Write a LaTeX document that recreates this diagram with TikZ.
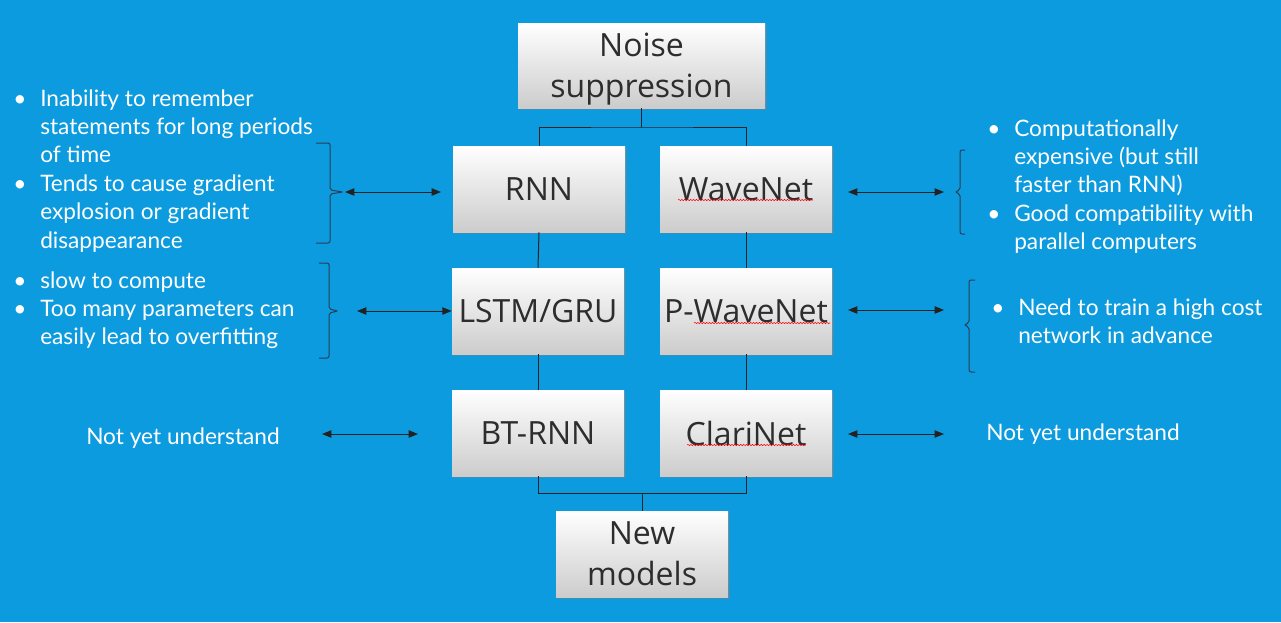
\documentclass[tikz,border=0pt]{standalone}
\usepackage{fontspec}
\setmainfont{Lato}
\newfontfamily\boxfont{Open Sans}
\usetikzlibrary{shadows}
\usetikzlibrary{arrows.meta}
\usetikzlibrary{decorations.pathmorphing}
\definecolor{slidebg}{RGB}{12,155,222}
\definecolor{boxtext}{RGB}{45,45,45}
\definecolor{linedark}{RGB}{34,34,34}
\definecolor{bracecol}{RGB}{40,62,84}
\tikzset{
  model/.style={draw=none,top color=white,bottom color=gray!40,
    drop shadow={shadow xshift=1.5pt,shadow yshift=-1.5pt,opacity=0.45},
    minimum width=129pt,minimum height=64.5pt,inner sep=0pt,align=center,
    text=boxtext,font=\boxfont\fontsize{24}{31}\selectfont},
  note/.style={anchor=base west,inner sep=0pt,text=white,font=\fontsize{17}{21.3}\selectfont},
  link/.style={linedark,line width=0.75pt},
  pointer/.style={linedark,line width=0.75pt,<->},
  bracket/.style={bracecol,line width=0.75pt,rounded corners=1.5pt},
  typo/.style={red,line width=0.4pt,decorate,decoration={snake,amplitude=0.5pt,segment length=2.2pt}}
}
\begin{document}
\begin{tikzpicture}[x=0.75pt,y=-0.75pt,>={Triangle[length=7pt,width=5.5pt]}]
\useasboundingbox (0,0) rectangle (1281,622);
\fill[slidebg] (0,0) rectangle (1281,622);

\node[model,minimum width=185.25pt,minimum height=63.75pt,text depth=-2pt] (noise) at (641.5,65.5) {Noise\\suppression};
\node[model] (rnn) at (539,189) {RNN};
\node[model] (wavenet) at (746,189) {WaveNet};
\node[model] (lstm) at (538,311) {LSTM/GRU};
\node[model] (pwavenet) at (746,311) {P-WaveNet};
\node[model] (btrnn) at (538,433) {BT-RNN};
\node[model] (clarinet) at (746,433) {ClariNet};
\node[model] (newmod) at (642,554) {New\\models};

\coordinate (split) at (641.5,127);
\coordinate (merge) at (642,493);
\draw[link] (noise.south) -- (split);
\draw[link] (rnn.north) |- (split) -| (wavenet.north);
\draw[link] (rnn.south) -- (lstm.north);
\draw[link] (lstm.south) -- (btrnn.north);
\draw[link] (wavenet.south) -- (pwavenet.north);
\draw[link] (pwavenet.south) -- (clarinet.north);
\draw[link] (btrnn.south) |- (merge) -| (clarinet.south);
\draw[link] (merge) -- (newmod.north);

\draw[typo] (678,200) -- (813,200);
\draw[typo] (694,323) -- (830,323);
\draw[typo] (687,445) -- (806,445);

\node[note] (rnnnote) at (13,106) {\begin{tabular}[t]{@{}p{20.25pt}@{}l@{}}
\textbullet & Inability to remember\\
 & statements for long periods\\
 & of time\\
\textbullet & Tends to cause gradient\\
 & explosion or gradient\\
 & disappearance
\end{tabular}};
\node[note] (lstmnote) at (13,288) {\begin{tabular}[t]{@{}p{20.25pt}@{}l@{}}
\textbullet & slow to compute\\
\textbullet & Too many parameters can\\
 & easily lead to overfitting
\end{tabular}};
\node[note] (btnote) at (86,444) {Not yet understand};
\node[note] (wavenote) at (987,136) {\begin{tabular}[t]{@{}p{20.25pt}@{}l@{}}
\textbullet & Computationally\\
 & expensive (but still\\
 & faster than RNN)\\
\textbullet & Good compatibility with\\
 & parallel computers
\end{tabular}};
\node[note] (pwavenote) at (991,315) {\begin{tabular}[t]{@{}p{20.25pt}@{}l@{}}
\textbullet & Need to train a high cost\\
 & network in advance
\end{tabular}};
\node[note] (clarinote) at (986,440) {Not yet understand};

\draw[bracket] (316,143) -- (330,143) -- (330,190) -- (343,192) -- (330,194) -- (330,243) -- (316,243);
\draw[bracket] (319,263) -- (329,263) -- (329,309) -- (338,311) -- (329,313) -- (329,358) -- (319,358);
\draw[bracket] (965,150) -- (960,150) -- (960,190) -- (955,192) -- (960,194) -- (960,234) -- (965,234);
\draw[bracket] (975,280) -- (969,280) -- (969,323) -- (964,325) -- (969,327) -- (969,372) -- (975,372);

\coordinate (rnnL) at (345,192);
\coordinate (rnnR) at (441,192);
\coordinate (waveL) at (848,192);
\coordinate (waveR) at (944,192);
\coordinate (lstmL) at (357,311);
\coordinate (pwaveL) at (848,310);
\coordinate (pwaveR) at (944,310);
\coordinate (btL) at (322,434);
\coordinate (btR) at (418,434);
\coordinate (clariL) at (848,434);
\coordinate (clariR) at (944,434);
\draw[pointer] (rnnL) -- (rnnR);
\draw[pointer] (waveL) -- (waveR);
\draw[pointer] (lstmL) -- (lstm.west |- lstmL);
\draw[pointer] (pwaveL) -- (pwaveR);
\draw[pointer] (btL) -- (btR);
\draw[pointer] (clariL) -- (clariR);
\end{tikzpicture}
\end{document}
